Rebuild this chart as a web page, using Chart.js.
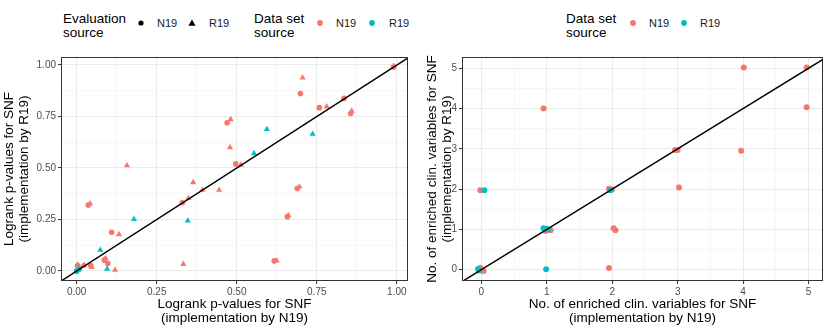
<!DOCTYPE html>
<html><head><meta charset="utf-8">
<script src="https://cdn.jsdelivr.net/npm/chart.js@4"></script>
<style>
body{margin:0;width:830px;height:332px;background:#fff;position:relative;overflow:hidden;font-family:"Liberation Sans",Arial,sans-serif;}
canvas{position:absolute;top:0;}
.t{position:absolute;font-size:13.5px;line-height:14px;color:#000;top:12px}
.l{position:absolute;font-size:11px;line-height:12px;top:17px;color:#1a1a1a}
.s{position:absolute}
</style></head>
<body>
<div class="t" style="left:63px">Evaluation<br>source</div>
<svg class="s" style="left:137px;top:19px" width="8" height="8"><circle cx="4" cy="4" r="2.6" fill="#000"/></svg>
<div class="l" style="left:157px">N19</div>
<svg class="s" style="left:188px;top:19px" width="8" height="8"><polygon points="4,0.5 7.6,6.8 0.4,6.8" fill="#000"/></svg>
<div class="l" style="left:209px">R19</div>
<div class="t" style="left:254px">Data set<br>source</div>
<svg class="s" style="left:316px;top:19px" width="8" height="8"><circle cx="4" cy="4" r="2.9" fill="#F8766D"/></svg>
<div class="l" style="left:336px">N19</div>
<svg class="s" style="left:368px;top:19px" width="8" height="8"><circle cx="4" cy="4" r="2.9" fill="#00BFC4"/></svg>
<div class="l" style="left:389px">R19</div>

<div class="t" style="left:566px">Data set<br>source</div>
<svg class="s" style="left:629px;top:19px" width="8" height="8"><circle cx="4" cy="4" r="2.9" fill="#F8766D"/></svg>
<div class="l" style="left:649px">N19</div>
<svg class="s" style="left:680px;top:19px" width="8" height="8"><circle cx="4" cy="4" r="2.9" fill="#00BFC4"/></svg>
<div class="l" style="left:700px">R19</div>

<canvas id="left" width="415" height="332" style="left:0px"></canvas>
<canvas id="right" width="415" height="332" style="left:415px"></canvas>
<script>
// ---- data: left panel (logrank p-values) ----
const leftRedCircles = [
  {x:0.470,y:0.720},{x:0.036,y:0.320},{x:0.109,y:0.188},{x:0.086,y:0.053},{x:0.097,y:0.037},
  {x:0.330,y:0.332},{x:0.689,y:0.401},{x:0.658,y:0.264},{x:0.617,y:0.049},{x:0.699,y:0.862},
  {x:0.758,y:0.793},{x:0.835,y:0.838},{x:0.856,y:0.765},{x:0.497,y:0.520},{x:0.990,y:0.990},
  {x:0.003,y:0.026},{x:0.044,y:0.026},{x:0.000,y:0.000}
];
const leftRedTriangles = [
  {x:0.481,y:0.736},{x:0.479,y:0.600},{x:0.157,y:0.512},{x:0.990,y:0.995},{x:0.706,y:0.938},
  {x:0.781,y:0.798},{x:0.859,y:0.777},{x:0.513,y:0.515},{x:0.364,y:0.430},{x:0.349,y:0.353},
  {x:0.393,y:0.393},{x:0.445,y:0.393},{x:0.042,y:0.327},{x:0.132,y:0.178},{x:0.090,y:0.062},
  {x:0.120,y:0.005},{x:0.333,y:0.033},{x:0.019,y:0.024},{x:0.024,y:0.029},{x:0.047,y:0.018},
  {x:0.696,y:0.409},{x:0.661,y:0.270},{x:0.625,y:0.050},{x:0.003,y:0.030}
];
const leftTealCircles = [{x:0.008,y:0.010},{x:0.000,y:0.000}];
const leftTealTriangles = [
  {x:0.594,y:0.688},{x:0.737,y:0.665},{x:0.554,y:0.571},{x:0.179,y:0.251},{x:0.347,y:0.244},
  {x:0.074,y:0.102},{x:0.095,y:0.010},{x:0.003,y:0.005}
];
// ---- data: right panel (number of enriched clinical variables) ----
const rightRed = [
  {x:0.95,y:4.00},{x:4.01,y:5.02},{x:4.97,y:5.02},{x:4.97,y:4.03},{x:2.96,y:2.97},{x:3.00,y:2.97},
  {x:3.97,y:2.95},{x:3.02,y:2.04},{x:-0.015,y:1.97},{x:1.95,y:2.01},{x:1.995,y:1.99},{x:2.02,y:1.03},
  {x:2.05,y:0.98},{x:0.98,y:0.96},{x:1.04,y:0.995},{x:1.06,y:0.98},{x:1.95,y:0.04},{x:-0.015,y:0.05},
  {x:0.01,y:-0.02},{x:0.035,y:-0.03}
];
const rightTeal = [
  {x:0.046,y:1.97},{x:1.97,y:1.97},{x:0.95,y:1.03},{x:0.99,y:1.02},{x:1.02,y:1.00},{x:0.99,y:0.01},
  {x:-0.05,y:0.02},{x:-0.04,y:-0.02}
];
// ---- tick values / labels ----
const leftMajorTicks = [0, 0.25, 0.5, 0.75, 1];
const leftMajorLabels = ["0.00","0.25","0.50","0.75","1.00"];
const leftMinorTicks = [0.125, 0.375, 0.625, 0.875];
const rightMajorTicks = [0, 1, 2, 3, 4, 5];
const rightMajorLabels = ["0","1","2","3","4","5"];
const rightMinorTicks = [0.5, 1.5, 2.5, 3.5, 4.5];
const leftXTitle = ["Logrank p-values for SNF","(implementation by N19)"];
const leftYTitle = ["Logrank p-values for SNF","(implementation by R19)"];
const rightXTitle = ["No. of enriched clin. variables for SNF","(implementation by N19)"];
const rightYTitle = ["No. of enriched clin. variables for SNF","(implementation by R19)"];

const RED = "#F8766D", TEAL = "#00BFC4";

const frame = {id:'frame', afterDatasetsDraw(chart){
  const a = chart.chartArea, c = chart.ctx;
  c.save(); c.strokeStyle = '#333333'; c.lineWidth = 1;
  c.strokeRect(Math.round(a.left)+0.5, Math.round(a.top)+0.5, Math.round(a.right-a.left)-1, Math.round(a.bottom-a.top)-1);
  c.restore();
}};

function axis(pos, majors, labels, minors, min, max, title, size, titlePad){
  const all = majors.concat(minors).sort((a,b)=>a-b);
  const isMajor = v => majors.some(m => Math.abs(m-v) < 1e-9);
  return {
    type:'linear', position:pos, min:min, max:max,
    afterBuildTicks: s => { s.ticks = all.map(v => ({value:v})); },
    afterFit: s => { if (pos === 'left') s.width = size; else s.height = size; },
    ticks:{
      autoSkip:false, maxRotation:0, padding:2, color:'#4D4D4D',
      font:{family:'"Liberation Sans", Arial, sans-serif', size:10},
      callback: v => { const i = majors.findIndex(m => Math.abs(m-v) < 1e-9); return i >= 0 ? labels[i] : ''; }
    },
    grid:{
      drawTicks:true, tickLength:3,
      color: ctx => ctx.tick && isMajor(ctx.tick.value) ? '#EBEBEB' : '#F2F2F2',
      lineWidth: ctx => ctx.tick && isMajor(ctx.tick.value) ? 1.1 : 0.6,
      tickColor: ctx => ctx.tick && isMajor(ctx.tick.value) ? '#333333' : 'rgba(0,0,0,0)',
      tickWidth: 1
    },
    border:{display:false},
    title:{display:true, text:title, color:'#000',
      font:{family:'"Liberation Sans", Arial, sans-serif', size:13.5, lineHeight:1.08},
      padding: titlePad}
  };
}

function pts(data, color, style, r){
  return {data:data, backgroundColor:color, borderColor:color, borderWidth:0,
    pointStyle:style, pointRadius:r, pointHoverRadius:r, showLine:false};
}

function panel(id, datasets, diag, xCfg, yCfg, padding){
  return new Chart(document.getElementById(id), {
    type:'scatter',
    data:{datasets:[
      {data:diag, showLine:true, borderColor:'#000', borderWidth:1.4, pointRadius:0, fill:false}
    ].concat(datasets)},
    options:{
      responsive:false, animation:false, events:[],
      layout:{padding:padding},
      plugins:{legend:{display:false}, tooltip:{enabled:false}},
      scales:{x:xCfg, y:yCfg}
    },
    plugins:[frame]
  });
}

panel('left', [
  pts(leftTealCircles, TEAL, 'circle', 2.8),
  pts(leftTealTriangles, TEAL, 'triangle', 3.6),
  pts(leftRedCircles, RED, 'circle', 2.8),
  pts(leftRedTriangles, RED, 'triangle', 3.6)
], [{x:-0.1,y:-0.1},{x:1.1,y:1.1}],
  axis('bottom', leftMajorTicks, leftMajorLabels, leftMinorTicks, -0.049, 1.035, leftXTitle, 51, {top:2,bottom:6}),
  axis('left', leftMajorTicks, leftMajorLabels, leftMinorTicks, -0.0485, 1.039, leftYTitle, 61, {top:2,bottom:2}),
  {top:57, right:7, left:0, bottom:0});

panel('right', [
  pts(rightTeal, TEAL, 'circle', 3),
  pts(rightRed, RED, 'circle', 3)
], [{x:-0.5,y:-0.5},{x:5.5,y:5.5}],
  axis('bottom', rightMajorTicks, rightMajorLabels, rightMinorTicks, -0.295, 5.22, rightXTitle, 51, {top:2,bottom:6}),
  axis('left', rightMajorTicks, rightMajorLabels, rightMinorTicks, -0.28, 5.28, rightYTitle, 47, {top:10,bottom:2}),
  {top:57, right:7, left:0, bottom:0});
</script>
</body></html>
